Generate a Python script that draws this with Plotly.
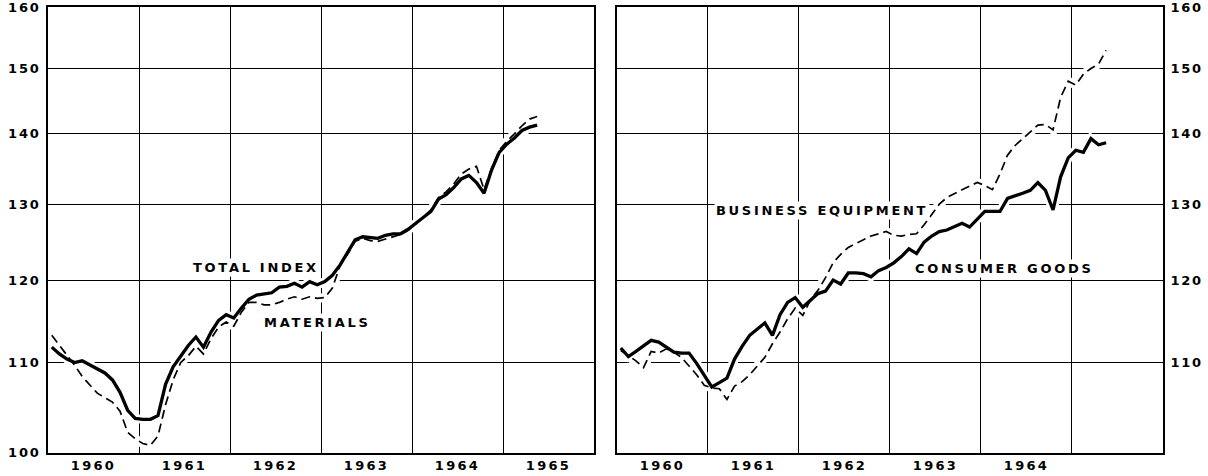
import math
import plotly.graph_objects as go

# ---------------- data (monthly, Jan 1960 - May 1965, ratio scale) ----------------
total_index = [111.8, 111.0, 110.4, 110.0, 110.2, 109.7, 109.3, 108.8, 108.0, 106.6, 104.6, 103.7,
               103.6, 103.6, 104.0, 107.5, 109.5, 110.8, 112.0, 113.0, 111.8, 113.6, 115.0, 115.7,
               115.3, 116.5, 117.6, 118.1, 118.3, 118.4, 119.1, 119.2, 119.6, 119.1, 119.8, 119.4,
               119.8, 120.6, 121.9, 123.5, 125.2, 125.6, 125.5, 125.4, 125.8, 126.0, 126.0, 126.6,
               127.4, 128.2, 129.0, 130.7, 131.3, 132.3, 133.5, 134.0, 133.0, 131.5, 134.8, 137.3,
               138.5, 139.4, 140.5, 141.0, 141.3]
materials = [113.2, 112.0, 110.9, 109.7, 108.4, 107.4, 106.5, 106.0, 105.5, 104.5, 102.2, 101.5,
             101.0, 100.8, 101.8, 105.2, 108.0, 110.0, 110.8, 111.9, 111.0, 112.8, 114.2, 114.8,
             114.3, 116.0, 117.2, 117.2, 116.9, 116.9, 117.2, 117.6, 117.9, 117.6, 117.9, 117.7,
             117.8, 119.0, 121.8, 123.3, 125.0, 125.4, 125.1, 125.0, 125.3, 125.6, 125.9, 126.5,
             127.3, 128.3, 129.2, 130.9, 131.7, 132.8, 134.2, 134.9, 135.3, 132.0, 135.0, 137.6,
             138.9, 140.0, 141.2, 142.2, 142.6]
consumer_goods = [111.7, 110.7, 111.3, 112.0, 112.6, 112.4, 111.8, 111.2, 111.1, 111.1, 109.9, 108.5,
                  107.2, 107.7, 108.2, 110.4, 111.9, 113.2, 114.0, 114.7, 113.2, 115.7, 117.2, 117.8,
                  116.6, 117.5, 118.3, 118.6, 120.0, 119.5, 120.9, 120.9, 120.8, 120.4, 121.2, 121.6,
                  122.2, 123.0, 124.0, 123.4, 124.9, 125.7, 126.3, 126.5, 126.9, 127.4, 126.9, 128.0,
                  129.0, 129.0, 129.0, 130.8, 131.1, 131.5, 131.9, 133.0, 131.9, 129.2, 133.8, 136.5,
                  137.6, 137.3, 139.3, 138.4, 138.7]
business_equipment = [111.4, 110.8, 110.2, 109.4, 111.3, 111.1, 111.6, 111.2, 110.6, 109.6, 108.6, 107.4,
                      107.1, 107.0, 105.8, 107.3, 107.8, 108.6, 109.6, 110.6, 112.2, 113.6, 115.2, 116.5,
                      115.6, 117.5, 118.7, 120.3, 122.2, 123.3, 124.2, 124.7, 125.3, 125.7, 126.0, 126.3,
                      125.8, 125.7, 125.9, 126.0, 127.2, 128.6, 130.0, 130.9, 131.5, 132.0, 132.5, 133.0,
                      132.6, 132.0, 134.2, 136.9, 138.3, 139.3, 140.3, 141.3, 141.4, 140.6, 145.5, 148.0,
                      147.4, 149.1, 150.0, 150.7, 152.9]

years_left = ["1960", "1961", "1962", "1963", "1964", "1965"]
years_right = ["1960", "1961", "1962", "1963", "1964"]
y_ticks_left = [100, 110, 120, 130, 140, 150, 160]
y_ticks_right = [110, 120, 130, 140, 150, 160]
y_grid = [110, 120, 130, 140, 150]

# decimal-year position of each monthly observation (mid-month)
months = [1960 + (i + 0.5) / 12 for i in range(len(total_index))]

FONT = "DejaVu Sans"
HALO = 9


def spaced(s, px):
    return '<span style="letter-spacing:%spx">%s</span>' % (px, s)


fig = go.Figure()


def add_halo(y, xa, ya):
    fig.add_trace(go.Scatter(x=months, y=y, xaxis=xa, yaxis=ya, mode="lines",
                             line=dict(color="white", width=HALO), hoverinfo="skip",
                             showlegend=False))


def add_line(y, xa, ya, dashed, name):
    if dashed:
        line = dict(color="black", width=1.7, dash="9px,5px")
    else:
        line = dict(color="black", width=3.3)
    fig.add_trace(go.Scatter(x=months, y=y, xaxis=xa, yaxis=ya, mode="lines",
                             line=line, name=name, showlegend=False))


# halos (white gaps in the grid where lines cross)
add_halo(total_index, "x", "y")
add_halo(materials, "x", "y")
add_halo(consumer_goods, "x2", "y2")
add_halo(business_equipment, "x2", "y2")
# lines
add_line(materials, "x", "y", True, "Materials")
add_line(total_index, "x", "y", False, "Total index")
add_line(business_equipment, "x2", "y2", True, "Business equipment")
add_line(consumer_goods, "x2", "y2", False, "Consumer goods")

tickfont = dict(family=FONT, size=13, color="black", weight="bold")

xcommon = dict(range=[1960, 1966], showgrid=False, zeroline=False, showline=True,
               linecolor="black", linewidth=1.6, mirror=True, ticks="",
               tickfont=tickfont, automargin=False, ticklabeloverflow="allow",
               minor=dict(tickmode="array", tickvals=[1961, 1962, 1963, 1964, 1965],
                          showgrid=True, gridcolor="black", gridwidth=1.3, ticks=""))
ycommon = dict(type="log", range=[1.99995, 2.20425], zeroline=False, showline=True,
               linecolor="black", linewidth=1.6, mirror=True, showgrid=False,
               ticks="outside", ticklen=3, tickcolor="rgba(0,0,0,0)",
               tickfont=tickfont, automargin=False, ticklabeloverflow="allow",
               minor=dict(tickmode="array", tickvals=y_grid, showgrid=True,
                          gridcolor="black", gridwidth=1.3, ticks=""))

fig.update_layout(
    width=1208, height=476,
    margin=dict(l=48, r=45, t=7, b=23),
    paper_bgcolor="white", plot_bgcolor="white",
    showlegend=False,
    xaxis=dict(xcommon, domain=[0, 0.4897], anchor="y",
               tickmode="array", tickvals=[1960.5 + i for i in range(len(years_left))],
               ticktext=[spaced(t, 2.3) for t in years_left]),
    yaxis=dict(ycommon, anchor="x", side="left",
               tickmode="array", tickvals=y_ticks_left,
               ticktext=[spaced(str(v), 1.8) for v in y_ticks_left]),
    xaxis2=dict(xcommon, domain=[0.5103, 1.0], anchor="y2",
                tickmode="array", tickvals=[1960.5 + i for i in range(len(years_right))],
                ticktext=[spaced(t, 2.3) for t in years_right]),
    yaxis2=dict(ycommon, anchor="x2", side="right",
                tickmode="array", tickvals=y_ticks_right,
                ticktext=[spaced(str(v), 1.8) for v in y_ticks_right]),
)

labfont = dict(family=FONT, size=13, color="black", weight="bold")
labels = [
    ("TOTAL INDEX", 1962.286, 121.6, "x", "y"),
    ("MATERIALS", 1962.956, 114.7, "x", "y"),
    ("BUSINESS EQUIPMENT", 1962.253, 129.2, "x2", "y2"),
    ("CONSUMER GOODS", 1964.253, 121.5, "x2", "y2"),
]
for text, xv, yv, xr, yr in labels:
    fig.add_annotation(text=spaced(text, 2.7), x=xv, y=math.log10(yv), xref=xr, yref=yr,
                       showarrow=False, font=labfont, bgcolor="white",
                       xanchor="center", yanchor="middle")

fig.write_html("out.html", config={"displayModeBar": False},
               post_script="document.body.style.margin='0';")
